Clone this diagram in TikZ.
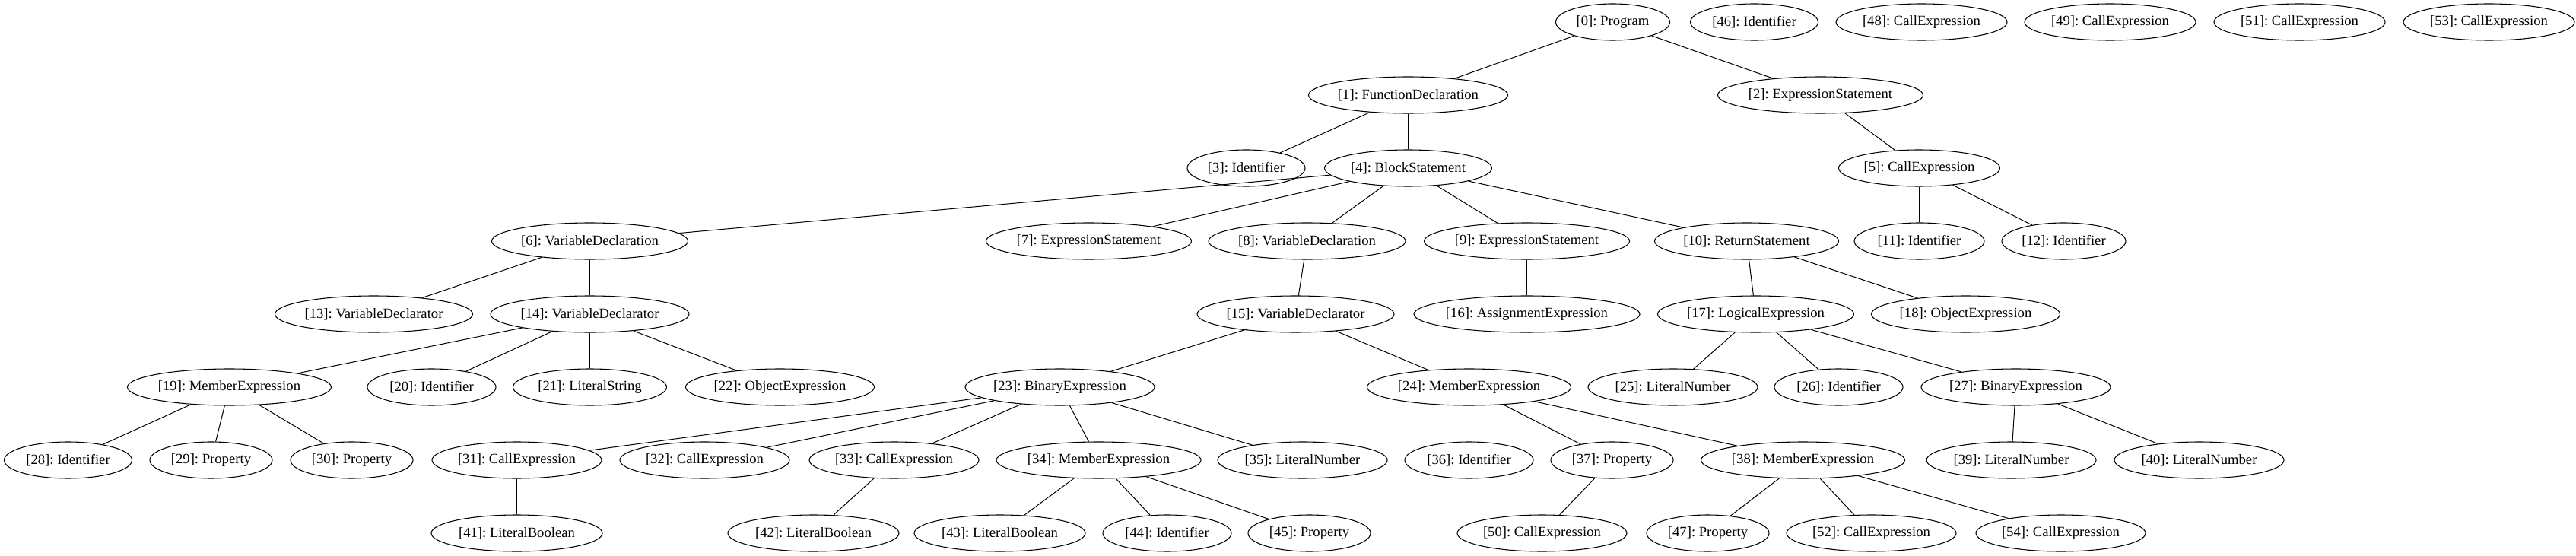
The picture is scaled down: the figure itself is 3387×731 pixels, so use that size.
\documentclass[tikz,border=0pt]{standalone}
\usepackage{fontspec}
\setmainfont{Liberation Serif}
\usetikzlibrary{shapes.geometric}
\tikzset{
  gnode/.style={draw, ellipse, inner sep=0pt, minimum height=36pt, line width=0.8pt,
    font=\fontsize{14}{16}\selectfont\frenchspacing},
  gedge/.style={line width=0.75pt}
}
\newcommand\gn[5]{\node[gnode, minimum width=#4*0.75pt] (n#1) at (#2,#3) {\makebox[0pt]{[#1]: #5}};}
\begin{document}
\begin{tikzpicture}[x=0.75pt, y=-0.75pt]
\useasboundingbox (0,0) rectangle (3387,731);
\begin{scope}[shift={(0.5,0)}]
% row 0
\gn{0}{2120}{29}{150}{Program}
\gn{46}{2306}{29}{168}{Identifier}
\gn{48}{2526}{29}{225}{CallExpression}
\gn{49}{2774}{29}{225}{CallExpression}
\gn{51}{3023}{29}{225}{CallExpression}
\gn{53}{3272}{29}{225}{CallExpression}
% row 1
\gn{1}{1851}{125}{262}{FunctionDeclaration}
\gn{2}{2393}{125}{270}{ExpressionStatement}
% row 2
\gn{3}{1638}{221}{155}{Identifier}
\gn{4}{1851}{221}{220}{BlockStatement}
\gn{5}{2523}{221}{212}{CallExpression}
% row 3
\gn{6}{775}{317}{258}{VariableDeclaration}
\gn{7}{1431}{317}{270}{ExpressionStatement}
\gn{8}{1718}{317}{259}{VariableDeclaration}
\gn{9}{2007}{317}{270}{ExpressionStatement}
\gn{10}{2296}{317}{242}{ReturnStatement}
\gn{11}{2523}{317}{171}{Identifier}
\gn{12}{2713}{317}{163}{Identifier}
% row 4
\gn{13}{491}{413}{260}{VariableDeclarator}
\gn{14}{775}{413}{261}{VariableDeclarator}
\gn{15}{1703}{413}{259}{VariableDeclarator}
\gn{16}{2007}{413}{297}{AssignmentExpression}
\gn{17}{2308}{413}{258}{LogicalExpression}
\gn{18}{2584}{413}{248}{ObjectExpression}
% row 5
\gn{19}{301}{509}{268}{MemberExpression}
\gn{20}{567}{509}{169}{Identifier}
\gn{21}{775}{509}{202}{LiteralString}
\gn{22}{1025}{509}{248}{ObjectExpression}
\gn{23}{1393}{509}{249}{BinaryExpression}
\gn{24}{1931}{509}{268}{MemberExpression}
\gn{25}{2199}{509}{223}{LiteralNumber}
\gn{26}{2417}{509}{169}{Identifier}
\gn{27}{2650}{509}{249}{BinaryExpression}
% row 6
\gn{28}{89}{605}{168}{Identifier}
\gn{29}{277}{605}{161}{Property}
\gn{30}{462}{605}{161}{Property}
\gn{31}{679}{605}{223}{CallExpression}
\gn{32}{926}{605}{223}{CallExpression}
\gn{33}{1175}{605}{223}{CallExpression}
\gn{34}{1444}{605}{269}{MemberExpression}
\gn{35}{1712}{605}{223}{LiteralNumber}
\gn{36}{1931}{605}{169}{Identifier}
\gn{37}{2119}{605}{161}{Property}
\gn{38}{2370}{605}{268}{MemberExpression}
\gn{39}{2644}{605}{223}{LiteralNumber}
\gn{40}{2891}{605}{223}{LiteralNumber}
% row 7
\gn{41}{679}{701}{225}{LiteralBoolean}
\gn{42}{1069}{701}{225}{LiteralBoolean}
\gn{43}{1314}{701}{225}{LiteralBoolean}
\gn{44}{1534}{701}{169}{Identifier}
\gn{45}{1721}{701}{161}{Property}
\gn{50}{2027}{701}{223}{CallExpression}
\gn{47}{2245}{701}{161}{Property}
\gn{52}{2460}{701}{223}{CallExpression}
\gn{54}{2709}{701}{223}{CallExpression}
% edges
\foreach \a/\b in {0/1,0/2,1/3,1/4,2/5,4/6,4/7,4/8,4/9,4/10,5/11,5/12,6/13,6/14,8/15,9/16,10/17,10/18,
  14/19,14/20,14/21,14/22,15/23,15/24,17/25,17/26,17/27,19/28,19/29,19/30,
  23/31,23/32,23/33,23/34,23/35,24/36,24/37,24/38,27/39,27/40,31/41,33/42,
  34/43,34/44,34/45,37/50,38/47,38/52,38/54}
  \draw[gedge] (n\a) -- (n\b);
\end{scope}
\end{tikzpicture}
\end{document}
